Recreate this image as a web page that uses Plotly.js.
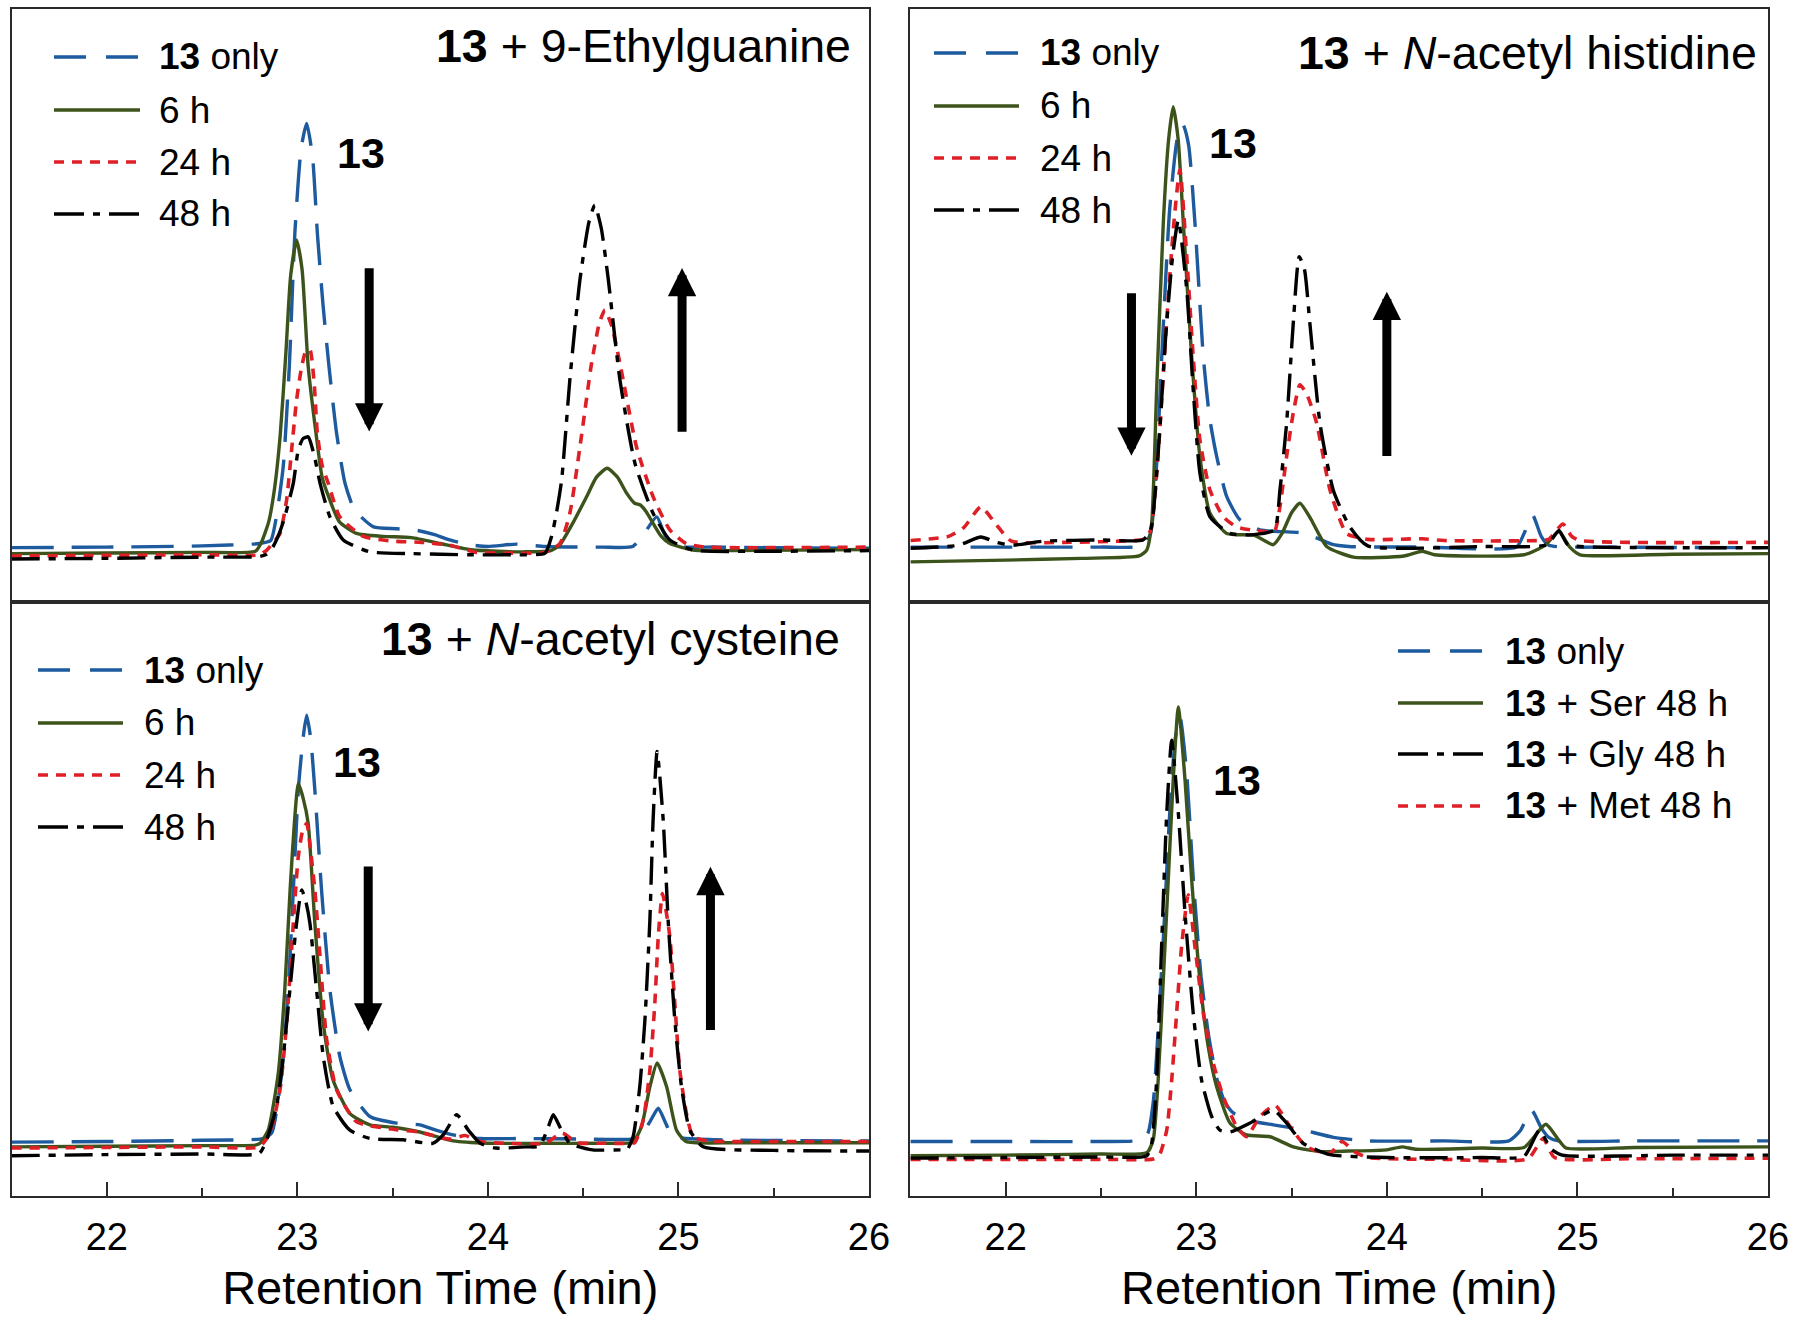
<!DOCTYPE html>
<html>
<head>
<meta charset="utf-8">
<script src="https://cdn.plot.ly/plotly-3.0.1.min.js"></script>
<style>html,body{margin:0;padding:0;background:#fff;}#chart{width:1800px;height:1326px;}</style>
</head>
<body>
<div id="chart"></div>
<script>
// ---------------- DATA (retention time in min, relative detector signal 0-100) ----------------
// Panel A: 13 + 9-Ethylguanine
const aOnlyT = [21.5,22.0,22.5,22.8,22.86,22.89,22.926,22.958,22.987,23.02,23.049,23.08,23.105,23.135,23.166,23.206,23.25,23.30,23.40,23.52,23.63,23.72,23.80,23.90,24.0,24.15,24.3,24.6,24.76,24.82,24.886,24.93,24.98,25.2,25.5,26.0];
const aOnlyY = [9.1,9.2,9.4,9.8,10.3,14.3,22.8,39.7,62.2,76.5,80.7,75,62.2,50,39.7,28.4,20.0,15.5,12.6,12.3,12.0,11.3,10.4,9.6,9.3,9.7,9.3,9.2,9.3,11.5,14.3,11.2,9.4,9.2,9.1,9.0];
const a6T = [21.5,22.0,22.5,22.78,22.81,22.85,22.88,22.91,22.94,22.965,22.996,23.025,23.057,23.098,23.13,23.17,23.22,23.31,23.45,23.6,23.75,23.9,24.05,24.2,24.33,24.378,24.45,24.518,24.57,24.626,24.68,24.728,24.77,24.80,24.83,24.867,24.91,24.955,25.077,25.3,26.0];
const a6Y = [8.1,8.2,8.3,8.5,9.9,13.5,19,28,42,55,61.0,56,39.7,28.4,21,17.2,13.5,11.5,11.0,10.8,9.8,8.8,8.5,8.4,8.6,9.6,13.5,17.7,21,22.5,21,18.3,16.6,16.3,15.2,13.2,11,9.8,8.7,8.6,8.8];
const a24T = [21.5,22.0,22.5,22.8,22.84,22.875,22.909,22.944,22.97,22.996,23.022,23.045,23.066,23.088,23.105,23.13,23.162,23.223,23.346,23.5,23.65,23.8,23.94,24.1,24.3,24.378,24.43,24.483,24.544,24.585,24.614,24.65,24.693,24.78,24.867,24.955,25.04,25.14,25.5,26.0];
const a24Y = [7.7,7.8,7.9,7.9,8.7,10,11.5,17.2,25.6,34.0,39.5,42.3,42.5,37,28.4,23,20.0,14.3,11.0,10.2,10.0,9.5,8.3,8.2,8.3,9.8,14.9,26.1,40.2,47,49.2,46.5,40.2,26.1,17.7,12.1,9.8,9.2,9.1,9.2];
const a48T = [21.5,22.0,22.5,22.8,22.84,22.873,22.905,22.934,22.979,23.005,23.03,23.057,23.09,23.119,23.171,23.241,23.38,23.6,23.9,24.1,24.3,24.334,24.36,24.387,24.43,24.483,24.53,24.561,24.595,24.632,24.693,24.772,24.867,24.955,25.077,25.5,26.0];
const a48Y = [7.2,7.3,7.5,7.6,8.0,9.3,11.5,14.3,20.0,25.6,27.5,27.8,24.5,20.0,14.3,10.4,8.4,8.1,7.9,7.9,8.2,11.0,15,20.5,37.4,54.3,64,66.9,63,54.3,37.4,23.3,14.9,10.4,8.7,8.5,8.6];

// Panel B: 13 + N-acetyl histidine
const bOnlyT = [21.5,22.0,22.5,22.72,22.76,22.79,22.82,22.86,22.90,22.93,22.96,22.993,23.037,23.07,23.107,23.16,23.229,23.334,23.45,23.55,23.65,23.71,23.80,24.2,24.68,24.72,24.765,24.81,24.85,25.2,26.0];
const bOnlyY = [9.2,9.2,9.2,9.4,11.5,22,42,66,78,80.5,77,63.9,41.3,31,24.5,17.7,13.8,12.1,11.8,11.6,10.5,9.7,9.3,9.2,9.2,11.5,14.6,11,9.5,9.2,9.1];
const b6T = [21.5,22.0,22.4,22.7,22.74,22.766,22.792,22.827,22.855,22.879,22.905,22.932,22.976,23.019,23.072,23.16,23.30,23.352,23.404,23.45,23.50,23.544,23.6,23.684,23.824,24.09,24.186,24.25,24.72,24.83,24.903,24.96,25.014,25.5,26.0];
const b6Y = [6.7,7.0,7.3,7.7,8.7,13.2,35.7,63.9,78,83.5,78,63.9,41.3,24.5,14.9,11.5,11.2,10.4,9.6,11.5,15,16.6,14,9.3,7.5,7.7,8.5,7.9,7.9,9.5,11.8,9.2,7.9,8.0,8.1];
const b24T = [21.5,21.7,21.78,21.87,21.95,22.03,22.3,22.6,22.72,22.76,22.80,22.84,22.88,22.914,22.95,22.984,23.019,23.072,23.142,23.212,23.334,23.41,23.439,23.474,23.51,23.544,23.58,23.632,23.702,23.789,23.9,24.186,24.3,24.8,24.85,24.924,24.97,25.014,26.0];
const b24Y = [10.3,11,12.5,16.0,13,10.2,10.0,10.2,10.5,12,25,45,63,72.9,58.2,41.3,27.3,18.8,14.3,12.6,11.9,11.9,16.0,24.5,32,36.6,35,30.1,18.8,11.5,10.5,10.6,10.3,10.3,10.5,13.1,11,10.3,10.0];
const b48T = [21.5,21.75,21.87,21.95,22.03,22.2,22.5,22.72,22.76,22.80,22.84,22.875,22.906,22.95,22.984,23.019,23.072,23.177,23.30,23.41,23.439,23.474,23.509,23.54,23.568,23.596,23.649,23.719,23.806,23.9,24.5,24.84,24.903,24.95,25.1,26.0];
const b48Y = [9.0,9.5,10.9,10.0,9.5,10.2,10.4,10.4,12,25,45,58,64.4,52.6,35.7,21.7,14.3,11.5,11.3,12.1,18.8,30.1,47.0,58.2,56,47.0,30.1,18.8,12.6,9.4,9.3,9.6,12.0,9.6,9.2,9.1];

// Panel C: 13 + N-acetyl cysteine
const cOnlyT = [21.5,22.0,22.5,22.82,22.865,22.918,22.952,22.979,23.005,23.03,23.049,23.07,23.092,23.127,23.171,23.223,23.276,23.381,23.52,23.643,23.72,23.818,23.96,24.2,24.5,24.75,24.8,24.85,24.894,24.93,24.97,25.2,26.0];
const cOnlyY = [9.1,9.2,9.4,9.7,10.6,20.7,34.7,51.5,68.3,77,80.9,77,68.3,51.5,34.7,23.5,17.9,13.4,12.3,12.0,11.2,10.3,9.7,9.7,9.6,9.6,10.2,12.5,14.8,12.5,10.1,9.5,9.3];
const c6T = [21.5,22.0,22.5,22.78,22.804,22.847,22.90,22.934,22.962,22.985,23.005,23.03,23.057,23.092,23.136,23.188,23.276,23.381,23.5,23.643,23.818,24.0,24.3,24.6,24.76,24.806,24.85,24.888,24.938,24.99,25.04,25.3,26.0];
const c6Y = [8.3,8.4,8.5,8.6,8.9,11.1,20.7,34.7,51.5,63,69.4,67,62.7,45.9,29.1,19.5,13.9,12.0,11.6,10.8,9.3,8.9,8.9,8.9,9.1,11.7,18.4,22.4,18.4,11.1,9.2,9.0,9.0];
const c24T = [21.5,22.0,22.5,22.8,22.856,22.909,22.944,22.979,23.005,23.028,23.049,23.07,23.092,23.119,23.154,23.206,23.311,23.52,23.64,23.8,23.88,23.96,24.1,24.3,24.39,24.47,24.6,24.73,24.77,24.815,24.85,24.876,24.894,24.916,24.935,24.955,24.981,25.007,25.042,25.077,25.15,25.5,26.0];
const c24Y = [8.1,8.2,8.3,8.3,10.6,17.9,29.1,45.9,57.1,61.5,62.7,58,51.5,40.3,26.3,17.9,12.5,11.2,10.8,9.6,10.2,9.2,8.9,8.9,10.6,9.0,8.9,8.9,9.0,12.8,21.2,32.4,43.6,50.9,48,43.6,32.4,21.2,13.9,10.0,9.3,9.2,9.2];
const c48T = [21.5,22.0,22.5,22.8,22.839,22.891,22.926,22.961,22.996,23.023,23.045,23.066,23.101,23.136,23.188,23.276,23.381,23.555,23.71,23.77,23.836,23.9,23.96,24.04,24.2,24.27,24.31,24.343,24.38,24.43,24.55,24.7,24.73,24.762,24.797,24.824,24.85,24.867,24.888,24.92,24.946,24.981,25.016,25.06,25.13,25.5,26.0];
const c48Y = [6.8,7.0,7.1,7.2,9.5,15.1,23.5,34.7,45.9,51.5,49.5,45.9,34.7,23.5,15.1,11.1,9.7,9.5,8.9,10.5,13.7,11,8.9,8.1,8.3,8.4,11,13.7,11.5,8.9,7.8,7.8,7.8,10.0,18.4,29.6,46.4,63.3,74.8,63.3,46.4,29.6,18.4,11.1,8.3,7.7,7.6];

// Panel D: 13 with Ser / Gly / Met (48 h)
const dOnlyT = [21.5,22.0,22.5,22.70,22.745,22.775,22.80,22.83,22.86,22.89,22.915,22.95,22.985,23.025,23.065,23.11,23.15,23.194,23.30,23.404,23.55,23.72,23.9,24.3,24.64,24.70,24.759,24.81,24.85,24.9,25.3,26.0];
const dOnlyY = [9.2,9.2,9.2,9.4,10.5,16,28,45,64,77,80.5,71,53,37,27,19.5,15.8,14.0,12.6,12.0,11.2,9.9,9.3,9.3,9.3,11,14.5,11.5,9.9,9.3,9.3,9.3];
const dSerT = [21.5,22.0,22.5,22.74,22.774,22.80,22.827,22.853,22.879,22.906,22.941,22.976,23.019,23.063,23.107,23.177,23.264,23.387,23.509,23.65,23.8,24.0,24.08,24.15,24.5,24.72,24.834,24.9,24.94,25.3,26.0];
const dSerY = [6.8,6.9,7.1,7.3,9.5,19.5,36.4,53.2,70.0,82.3,70.0,53.2,36.4,25.1,18.4,12.3,10.3,10.0,8.3,7.5,7.6,7.8,8.3,7.9,8.1,8.2,12.1,9.5,8.1,8.2,8.3];
const dGlyT = [21.5,22.0,22.5,22.74,22.766,22.792,22.818,22.845,22.871,22.906,22.941,22.984,23.028,23.081,23.124,23.177,23.282,23.404,23.474,23.561,23.7,24.0,24.5,24.72,24.80,24.86,24.92,25.5,26.0];
const dGlyY = [6.4,6.5,6.6,6.8,8.9,19.5,42.0,64.4,76.7,64.4,47.6,30.8,19.5,13.4,11.1,10.8,12.3,14.5,12.3,8.9,7.0,6.5,6.5,6.7,11.1,8,6.9,6.9,6.9];
const dMetT = [21.5,22.0,22.5,22.78,22.81,22.845,22.871,22.897,22.923,22.958,22.993,23.037,23.089,23.142,23.212,23.264,23.334,23.413,23.492,23.579,23.70,23.764,23.83,23.9,24.3,24.74,24.82,24.88,25.3,26.0];
const dMetY = [6.2,6.2,6.2,6.3,7.2,11.1,19.5,30.8,42.0,50.7,42.0,30.8,22.4,16.7,11.7,10.0,13.4,15.3,11.7,8.3,7.2,9.2,7.5,6.5,6.2,6.3,9.7,6.5,6.3,6.4];

const xTickVals = [22, 23, 24, 25, 26];
const xTickText = ['22', '23', '24', '25', '26'];
const legendTimeLabels = ['<b>13</b> only', '6 h', '24 h', '48 h'];
const legendAminoLabels = ['<b>13</b> only', '<b>13</b> + Ser 48 h', '<b>13</b> + Gly 48 h', '<b>13</b> + Met 48 h'];
const panelTitles = ['<b>13</b> + 9-Ethylguanine', '<b>13</b> + <i>N</i>-acetyl histidine', '<b>13</b> + <i>N</i>-acetyl cysteine'];
const xTitle = 'Retention Time (min)';

// ---------------- STYLES ----------------
const W = 1800, H = 1326;
const FONT = 'Liberation Sans, Arial, Helvetica, sans-serif';
const BLUE = '#1d5a9e', GREEN = '#3c531b', RED = '#de1f26', BLACK = '#000000';
const st = {
  only: {color: BLUE, width: 3.4, dash: '42px,18px'},
  six: {color: GREEN, width: 3.4, dash: 'solid'},
  tf: {color: RED, width: 3.6, dash: '10px,8px'},
  fe: {color: BLACK, width: 3.4, dash: '28px,9px,7px,9px'}
};
function tr(x, y, name, s, ax) {
  return {x: x, y: y, name: name, type: 'scatter', mode: 'lines', xaxis: 'x' + ax, yaxis: 'y' + ax,
    showlegend: false, hoverinfo: 'skip',
    line: {color: s.color, width: s.width, dash: s.dash, shape: 'spline', smoothing: 0.55}};
}
const traces = [
  tr(aOnlyT, aOnlyY, '13 only', st.only, ''), tr(a6T, a6Y, '6 h', st.six, ''), tr(a24T, a24Y, '24 h', st.tf, ''), tr(a48T, a48Y, '48 h', st.fe, ''),
  tr(bOnlyT, bOnlyY, '13 only', st.only, '2'), tr(b6T, b6Y, '6 h', st.six, '2'), tr(b24T, b24Y, '24 h', st.tf, '2'), tr(b48T, b48Y, '48 h', st.fe, '2'),
  tr(cOnlyT, cOnlyY, '13 only', st.only, '3'), tr(c6T, c6Y, '6 h', st.six, '3'), tr(c24T, c24Y, '24 h', st.tf, '3'), tr(c48T, c48Y, '48 h', st.fe, '3'),
  tr(dOnlyT, dOnlyY, '13 only', st.only, '4'), tr(dSerT, dSerY, '13 + Ser 48 h', st.six, '4'), tr(dMetT, dMetY, '13 + Met 48 h', st.tf, '4'), tr(dGlyT, dGlyY, '13 + Gly 48 h', st.fe, '4')
];

// panel pixel boxes
const colL = [11.5, 869], colR = [910.4, 1768];
const rowT = [9, 601.6], rowB = [601.6, 1196.2];
const dx = p => [p[0] / W, p[1] / W];
const dy = p => [1 - p[1] / H, 1 - p[0] / H];

function xax(dom, bottom, anchor) {
  const a = {domain: dx(dom), anchor: anchor, range: [21.5, 26], showgrid: false, zeroline: false,
    showline: true, mirror: true, linecolor: '#2a2a2a', linewidth: 2,
    tickvals: xTickVals, ticktext: xTickText, fixedrange: true};
  if (bottom) {
    Object.assign(a, {ticks: 'inside', ticklen: 14, tickwidth: 2, tickcolor: '#2a2a2a', showticklabels: true,
      ticklabelstandoff: 6, tickfont: {family: FONT, size: 38, color: '#000'},
      minor: {ticks: 'inside', ticklen: 8, tickwidth: 2, tickcolor: '#2a2a2a', dtick: 0.5, tick0: 21.5},
      title: {text: xTitle, font: {family: FONT, size: 47, color: '#000'}, standoff: 14}});
  } else {
    Object.assign(a, {ticks: '', showticklabels: false});
  }
  return a;
}
function yax(dom, anchor) {
  return {domain: dy(dom), anchor: anchor, range: [0, 100], showgrid: false, zeroline: false, showticklabels: false, ticks: '',
    showline: true, mirror: true, linecolor: '#2a2a2a', linewidth: 2, fixedrange: true};
}

const px = x => x / W, py = y => 1 - y / H;
const annotations = [], shapes = [];
function txt(x, y, text, size, anchor) {
  annotations.push({xref: 'paper', yref: 'paper', x: px(x), y: py(y), text: text, showarrow: false,
    xanchor: anchor, yanchor: 'middle', font: {family: FONT, size: size, color: '#000'}});
}
function legend(x0, x1, tx, rows, labels, styles) {
  rows.forEach((r, i) => {
    const s = styles[i];
    const ld = s === st.only ? '32px,20px' : (s === st.fe ? '30px,9px,7px,9px' : s.dash);
    shapes.push({type: 'line', xref: 'paper', yref: 'paper', x0: px(x0), x1: px(x1), y0: py(r), y1: py(r),
      line: {color: s.color, width: 3.4, dash: ld}});
    txt(tx, r, labels[i], 37, 'left');
  });
}
legend(54, 140, 157, [57, 110, 162, 214], legendTimeLabels, [st.only, st.six, st.tf, st.fe]);
legend(934, 1019, 1038, [53, 106, 158, 210], legendTimeLabels, [st.only, st.six, st.tf, st.fe]);
legend(38, 123, 142, [670, 723, 775, 827], legendTimeLabels, [st.only, st.six, st.tf, st.fe]);
legend(1398, 1483, 1503, [651, 703, 754, 806], legendAminoLabels, [st.only, st.six, st.fe, st.tf]);

txt(853, 46, panelTitles[0], 46.5, 'right');
txt(1759, 53, panelTitles[1], 46.5, 'right');
txt(842, 639, panelTitles[2], 46.5, 'right');
txt(361, 153, '<b>13</b>', 43, 'center');
txt(1233, 143, '<b>13</b>', 43, 'center');
txt(357, 762, '<b>13</b>', 43, 'center');
txt(1237, 780, '<b>13</b>', 43, 'center');

function arrow(ax, x, yTail, yTip) {
  annotations.push({xref: 'x' + ax, yref: 'y' + ax, axref: 'x' + ax, ayref: 'y' + ax,
    x: x, y: yTip, ax: x, ay: yTail, text: '', showarrow: true,
    arrowhead: 2, arrowsize: 0.63, arrowwidth: 9, arrowcolor: '#000', standoff: 0, startstandoff: 0});
}
arrow('', 23.377, 56.5, 28.7);
arrow('', 25.019, 28.4, 56.3);
arrow('2', 22.66, 52.3, 24.6);
arrow('2', 24.0, 24.3, 52.3);
arrow('3', 23.372, 55.7, 27.7);
arrow('3', 25.168, 27.7, 55.4);

const layout = {
  width: W, height: H, margin: {l: 0, r: 0, t: 0, b: 0},
  paper_bgcolor: '#fff', plot_bgcolor: '#fff', showlegend: false,
  font: {family: FONT, color: '#000'},
  xaxis: xax(colL, false, 'y'), yaxis: yax(rowT, 'x'),
  xaxis2: xax(colR, false, 'y2'), yaxis2: yax(rowT, 'x2'),
  xaxis3: xax(colL, true, 'y3'), yaxis3: yax(rowB, 'x3'),
  xaxis4: xax(colR, true, 'y4'), yaxis4: yax(rowB, 'x4'),
  annotations: annotations, shapes: shapes
};
Plotly.newPlot('chart', traces, layout, {staticPlot: true, displayModeBar: false});
</script>
</body>
</html>
